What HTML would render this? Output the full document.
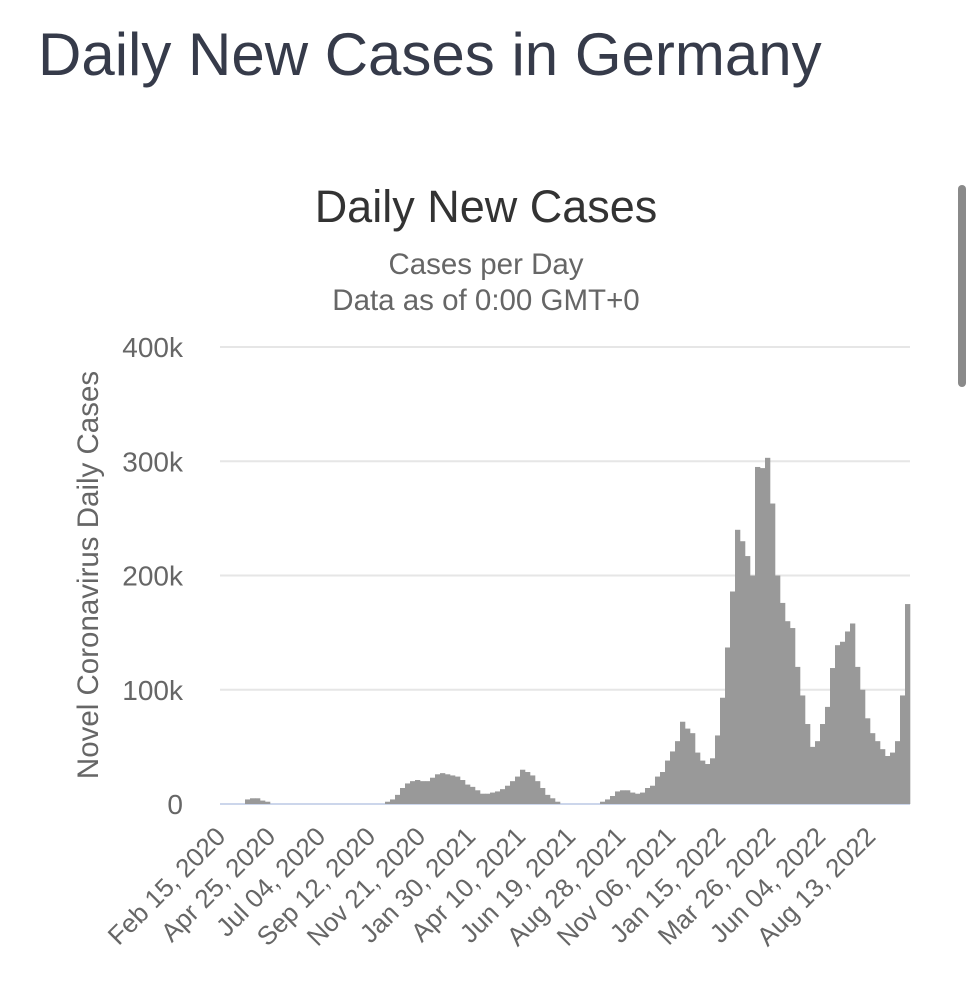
<!DOCTYPE html>
<html><head><meta charset="utf-8"><style>
body{margin:0;background:#fff;width:973px;height:1000px;overflow:hidden;font-family:"Liberation Sans",sans-serif}
#title{position:absolute;left:38px;top:20px;font-size:60px;color:#363b4a;margin:0;font-weight:normal;white-space:nowrap}
#scroll{position:absolute;left:958px;top:185px;width:8px;height:202px;background:#8a8a8a;border-radius:4px}
svg{position:absolute;left:0;top:0}
</style></head><body>
<h1 id="title">Daily New Cases in Germany</h1>
<div id="scroll"></div>
<svg id="chart" width="973" height="1000" font-family="Liberation Sans, sans-serif">
<text x="486" y="222" text-anchor="middle" font-size="45" fill="#333">Daily New Cases</text>
<text x="486" y="274" text-anchor="middle" font-size="29.5" fill="#666">Cases per Day</text>
<text x="486" y="310" text-anchor="middle" font-size="29.5" fill="#666">Data as of 0:00 GMT+0</text>
<text transform="translate(98,575) rotate(-90)" text-anchor="middle" font-size="29.5" fill="#666">Novel Coronavirus Daily Cases</text>
<g id="grid"></g><g id="bars"></g><g id="xlabels"></g>
</svg>
<script>
const yTicks=[0,100000,200000,300000,400000];
const yTickLabels=["0","100k","200k","300k","400k"];
const xLabels=["Feb 15, 2020","Apr 25, 2020","Jul 04, 2020","Sep 12, 2020","Nov 21, 2020","Jan 30, 2021","Apr 10, 2021","Jun 19, 2021","Aug 28, 2021","Nov 06, 2021","Jan 15, 2022","Mar 26, 2022","Jun 04, 2022","Aug 13, 2022"];
const weeklyCasesK=[0,0,0,0,0,4,5,5,3,2,0,
0,0,0,0,0,0,0,0,0,0,0,0,0,0,0,0,0,0,0,0,0,0,
2,4,8,14,18,20,21,20,20,23,26,27,26,25,24,21,17,15,12,9,9,10,11,13,16,20,24,30,28,25,20,14,8,5,2,
0,0,0,0,0,0,0,0,
2,4,7,11,12,12,10,9,10,14,16,24,28,38,46,55,72,66,62,45,38,35,40,60,93,137,186,240,230,217,200,295,294,303,263,200,176,160,154,120,95,70,50,55,70,85,119,139,142,151,158,120,100,75,62,55,48,42,45,55,95,175];
const NS="http://www.w3.org/2000/svg";
const X0=220,X1=910,Y0=804,Y1=347;
const yScale=v=>Y0-(v/400000)*(Y0-Y1);
const bw=(X1-X0)/weeklyCasesK.length;
const xScale=i=>X0+i*bw;
const grid=document.getElementById('grid');
yTicks.forEach((t,i)=>{
  const l=document.createElementNS(NS,'line');
  l.setAttribute('x1',X0);l.setAttribute('x2',X1);l.setAttribute('y1',yScale(t));l.setAttribute('y2',yScale(t));
  l.setAttribute('stroke',i===0?'#ccd6eb':'#e6e6e6');l.setAttribute('stroke-width',2);
  
  
  grid.appendChild(l);
  const tx=document.createElementNS(NS,'text');
  tx.setAttribute('x',183);tx.setAttribute('y',yScale(t)+10);tx.setAttribute('text-anchor','end');
  tx.setAttribute('font-size','28');tx.setAttribute('fill','#666');tx.textContent=yTickLabels[i];
  
  
  grid.appendChild(tx);
});
const bars=document.getElementById('bars');
weeklyCasesK.forEach((v,i)=>{
  if(v<=0)return;
  const r=document.createElementNS(NS,'rect');
  r.setAttribute('x',xScale(i));r.setAttribute('width',bw+0.3);
  r.setAttribute('y',yScale(v*1000));r.setAttribute('height',Y0-yScale(v*1000));
  r.setAttribute('fill','#999');
  
  
  bars.appendChild(r);
});
const xl=document.getElementById('xlabels');
xLabels.forEach((s,i)=>{
  const x=xScale(i*10)+7,y=838;
  const t=document.createElementNS(NS,'text');
  t.setAttribute('transform',`translate(${x},${y}) rotate(-45)`);
  t.setAttribute('text-anchor','end');t.setAttribute('font-size','26');t.setAttribute('fill','#666');
  t.textContent=s;
  
  
  xl.appendChild(t);
});
</script>
</body></html>
